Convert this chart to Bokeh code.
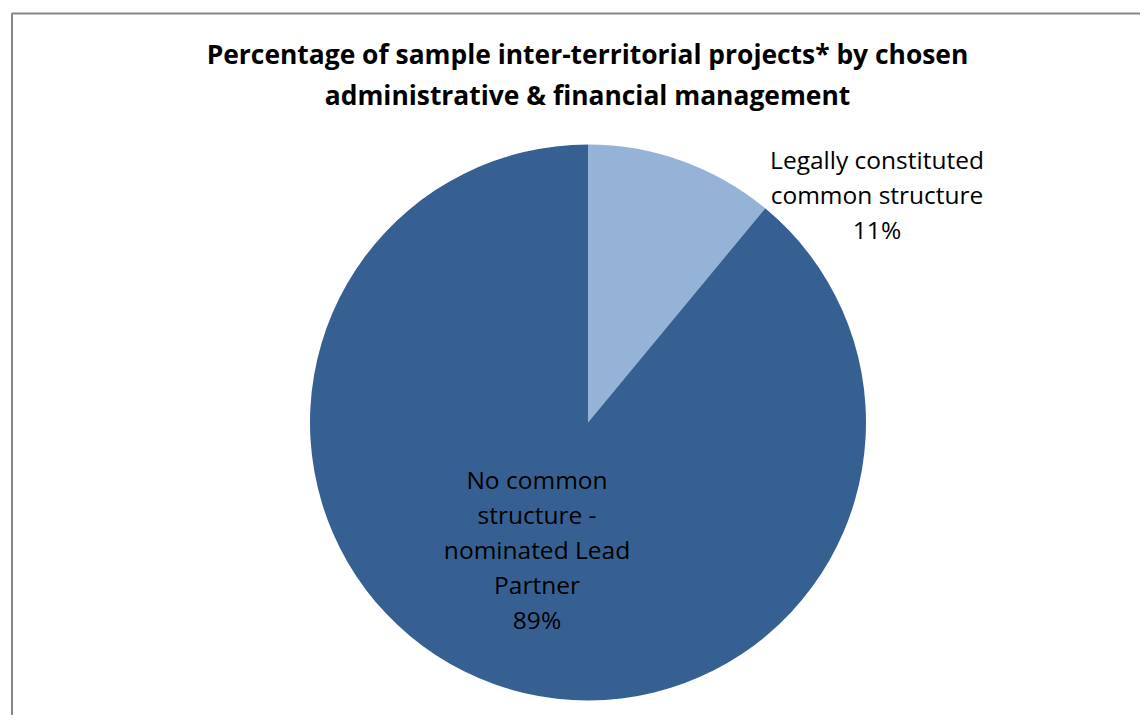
from bokeh.plotting import figure
from bokeh.models import Range1d, ColumnDataSource
from bokeh.core.properties import value
from bokeh.embed import file_html
from bokeh.resources import INLINE
import math

title_lines = ["Percentage of sample inter-territorial projects* by chosen",
               "administrative & financial management"]
categories = [["Legally constituted", "common structure"],
              ["No common", "structure -", "nominated Lead", "Partner"]]
values = [11, 89]
colors = ["#95B3D7", "#376092"]

W, H = 1140, 715
p = figure(width=W, height=H, output_backend="svg", toolbar_location=None,
           x_range=Range1d(0, W), y_range=Range1d(0, H), min_border=0)
p.axis.visible = False
p.grid.visible = False
p.outline_line_color = None
p.background_fill_color = "white"
p.border_fill_color = "white"

def Y(top):  # distance from top -> data y
    return H - top

# chart frame
p.quad(left=[11.5], right=[W + 50], top=[Y(13)], bottom=[-50],
       fill_color=None, line_color="#868686", line_width=2)

cx, cy, r = 587.5, Y(422), 278
total = sum(values)
starts, ends, cum = [], [], 0
for v in values:
    starts.append(math.pi / 2 - 2 * math.pi * cum / total)
    cum += v
    ends.append(math.pi / 2 - 2 * math.pi * cum / total)
src = ColumnDataSource(dict(start=starts, end=ends, color=colors))
p.wedge(x=cx, y=cy, radius=r, start_angle="start", end_angle="end",
        direction="clock", fill_color="color", line_color=None, source=src)

# title
p.text(x=[587, 587], y=[Y(53.5), Y(94)], text=title_lines,
       text_font=value("Open Sans"), text_font_style="bold",
       text_font_size="26.4px", text_align="center", text_baseline="alphabetic",
       text_color="black")

# data labels
anchors = [(876.5, 158.5), (536.5, 479)]
step = 35
lx, ly, lt = [], [], []
for (ax, ay), cat, v in zip(anchors, categories, values):
    lines = cat + [f"{v}%"]
    for i, t in enumerate(lines):
        lx.append(ax)
        ly.append(Y(ay + i * step))
        lt.append(t)
p.text(x=lx, y=ly, text=lt, text_font=value("Open Sans"), text_font_size="24.5px",
       text_align="center", text_baseline="alphabetic", text_color="black")

open("out.html", "w").write(file_html(p, INLINE))
